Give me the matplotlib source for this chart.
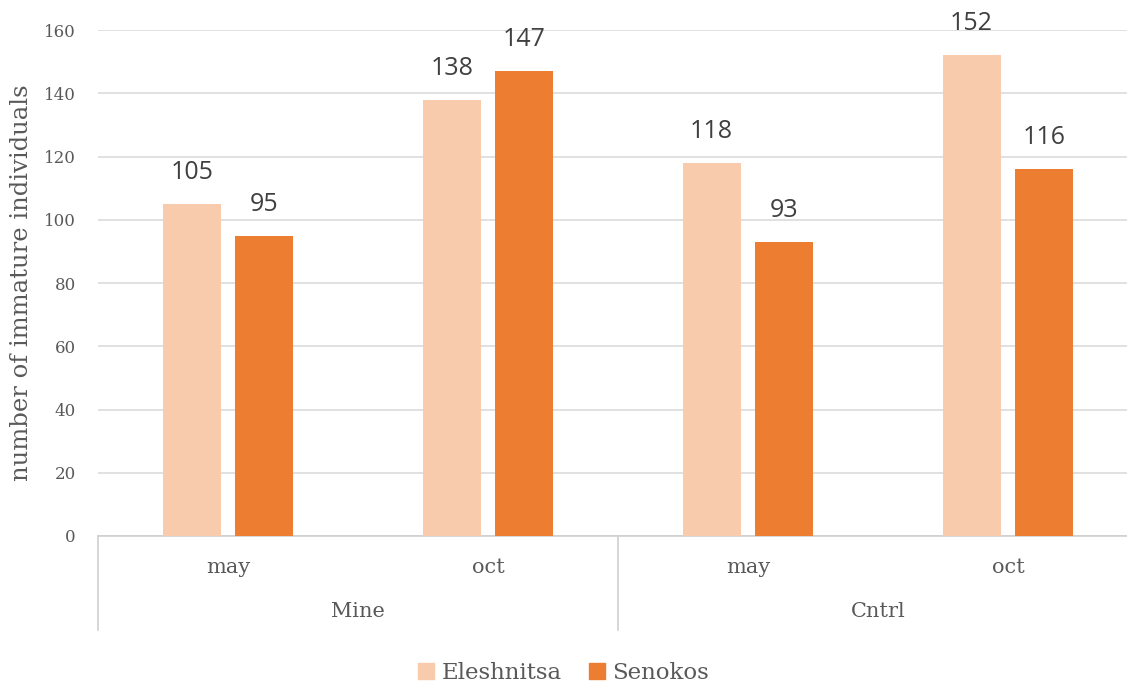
import numpy as np
import matplotlib
matplotlib.use('Agg')
from matplotlib import pyplot as plt
from matplotlib.lines import Line2D

groups = ['Mine', 'Cntrl']
months = ['may', 'oct', 'may', 'oct']
eleshnitsa = [105, 138, 118, 152]
senokos = [95, 147, 93, 116]

c_light = '#F8CBAD'
c_dark = '#ED7D31'
txt = '#595959'
serif = 'DejaVu Serif'

fig = plt.figure(figsize=(11.27, 6.87), dpi=100)
ax = fig.add_axes([0.087, 0.2198, 0.9228, 0.7365])

x = np.arange(len(months))
w = 0.223
off = 0.14
b1 = ax.bar(x - off, eleshnitsa, w, color=c_light, zorder=3)
b2 = ax.bar(x + off, senokos, w, color=c_dark, zorder=3)

for bars, vals in ((b1, eleshnitsa), (b2, senokos)):
    for r, v in zip(bars, vals):
        ax.text(r.get_x() + r.get_width() / 2, v + 6, str(v), ha='center', va='bottom',
                fontsize=18, color='#404040', family='Open Sans')

ax.set_xlim(-0.5, 3.5)
ax.set_ylim(0, 160)
ax.set_yticks(range(0, 161, 20))
ax.yaxis.grid(True, color='#dcdcdc', lw=1.2, zorder=0)
ax.set_xticks([])
for s in ['top', 'right', 'left']:
    ax.spines[s].set_visible(False)
ax.spines['bottom'].set_color('#d0d0d0')
ax.spines['bottom'].set_linewidth(1.2)
ax.tick_params(axis='y', length=0, pad=16, labelsize=12, labelcolor=txt)
for lab in ax.get_yticklabels():
    lab.set_family(serif)

ax.set_ylabel('number of immature individuals', fontsize=17.5, color=txt, family=serif, labelpad=8)

# two-level category axis
trans = ax.get_xaxis_transform()
for i, m in enumerate(months):
    ax.text(i, -0.062, m, transform=trans, ha='center', va='center', fontsize=15,
            color=txt, family=serif)
for g, name in enumerate(groups):
    ax.text(2 * g + 0.5, -0.15, name, transform=trans, ha='center', va='center',
            fontsize=15, color=txt, family=serif)
for xs in (-0.5, 1.5, 3.5):
    ax.add_line(Line2D([xs, xs], [0, -0.186], transform=trans, color='#d0d0d0',
                       lw=1.2, clip_on=False))

handles = [plt.Rectangle((0, 0), 1, 1, color=c_light), plt.Rectangle((0, 0), 1, 1, color=c_dark)]
fig.legend(handles, ['Eleshnitsa', 'Senokos'], loc='center', bbox_to_anchor=(0.5, 0.02),
           ncol=2, frameon=False, handlelength=0.7, handleheight=0.7, handletextpad=0.3,
           columnspacing=1.2, prop={'family': serif, 'size': 16.5}, labelcolor=txt)

fig.savefig('out.png', dpi=100)
